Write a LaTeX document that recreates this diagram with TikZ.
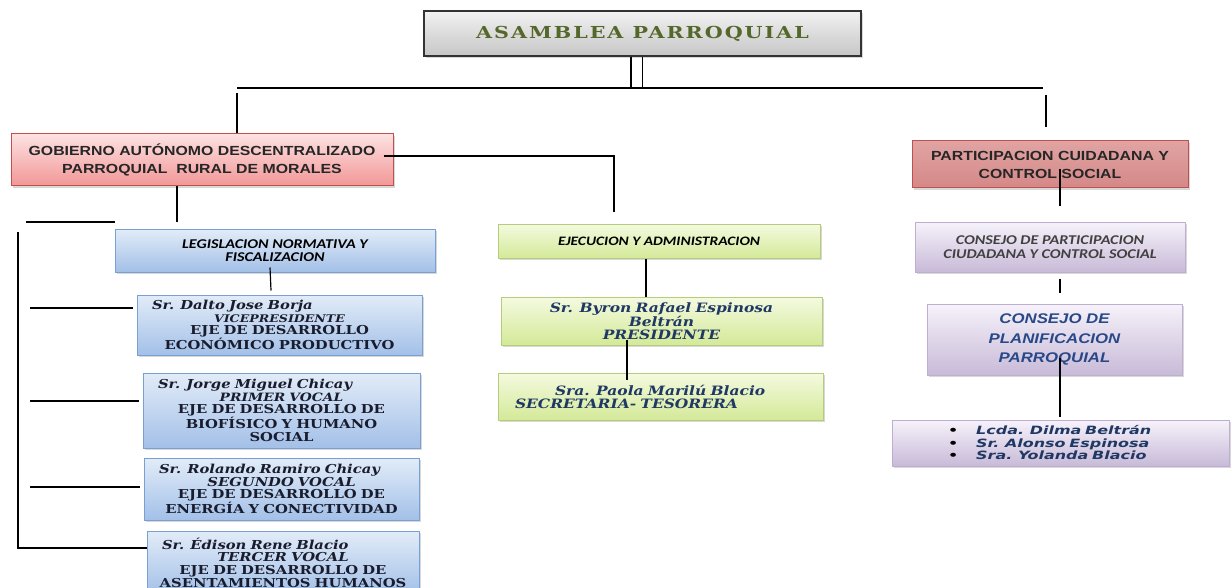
\documentclass[tikz,border=0pt]{standalone}
\usepackage{fontspec}
\usepackage{tikz}
\usetikzlibrary{shadows}
\newfontfamily\titlefont[LetterSpace=12,FakeStretch=1.25]{DejaVu Serif}
\newfontfamily\arialw[FakeStretch=1.2]{Liberation Sans}
\newfontfamily\calw[FakeStretch=1.2]{Carlito}
\newfontfamily\cambw[FakeStretch=1.2]{DejaVu Serif}
\newfontfamily\verdw[FakeStretch=1.4]{DejaVu Sans}
\definecolor{olivetxt}{RGB}{84,104,44}
\definecolor{redline}{RGB}{192,80,77}
\definecolor{pinktop}{RGB}{253,226,226}
\definecolor{pinkbot}{RGB}{242,150,150}
\definecolor{rosetop}{RGB}{224,164,163}
\definecolor{rosebot}{RGB}{212,136,135}
\definecolor{bluetop}{RGB}{226,236,248}
\definecolor{bluebot}{RGB}{163,192,232}
\definecolor{blueline}{RGB}{120,160,210}
\definecolor{greentop}{RGB}{244,250,224}
\definecolor{greenbot}{RGB}{212,233,152}
\definecolor{greenline}{RGB}{180,205,120}
\definecolor{lilatop}{RGB}{246,242,250}
\definecolor{lilabot}{RGB}{200,186,216}
\definecolor{lilaline}{RGB}{190,175,210}
\definecolor{navytxt}{RGB}{31,56,100}
\definecolor{darktxt}{RGB}{25,28,45}
\definecolor{planiftxt}{RGB}{40,72,135}

\begin{document}
\begin{tikzpicture}[x=1pt, y=-1pt,
    conn/.style={line width=1.2pt},
    box/.style={draw, drop shadow={shadow xshift=2pt, shadow yshift=-2pt, opacity=.3}},
    topbox/.style={box, draw=black!80, line width=1.4pt, top color=gray!10, bottom color=gray!45, minimum width=437pt, minimum height=45pt, text=olivetxt, font=\titlefont\bfseries\fontsize{16.5}{20}\selectfont},
    redbox/.style={box, draw=redline, line width=1pt, top color=pinktop, bottom color=pinkbot, align=center, text=black!85, font=\arialw\bfseries\fontsize{13.2}{18}\selectfont},
    bluebox/.style={box, draw=blueline, line width=1pt, top color=bluetop, bottom color=bluebot, align=center},
    greenbox/.style={box, draw=greenline, line width=1pt, top color=greentop, bottom color=greenbot, align=center},
    lilabox/.style={box, draw=lilaline, line width=1pt, top color=lilatop, bottom color=lilabot, align=center},
    persfont/.style={inner xsep=6pt, font=\cambw\bfseries\fontsize{12.3}{12.6}\selectfont},
    capfont/.style={font=\calw\bfseries\itshape\fontsize{13.4}{13.5}\selectfont}]
    \useasboundingbox[fill=white] (0,0) rectangle (1231,588);

    \node[topbox] (asamblea) at (642.5,33.5) {ASAMBLEA PARROQUIAL};
    \node[redbox, minimum width=382pt, minimum height=52pt] (gad) at (202,160) {GOBIERNO AUTÓNOMO DESCENTRALIZADO\\PARROQUIAL\ \ RURAL DE MORALES};
    \node[redbox, top color=rosetop, bottom color=rosebot, minimum width=276pt, minimum height=47pt] (partic) at (1050,164.5) {PARTICIPACION CUIDADANA Y\\CONTROL SOCIAL};

    % legislativo
    \node[bluebox, capfont, minimum width=320pt, minimum height=43pt] (legis) at (275,250.5) {LEGISLACION NORMATIVA Y\\FISCALIZACION};
    \node[bluebox, persfont, text=darktxt, text width=273pt, minimum height=60pt] (dalto) at (279.5,325) {\hspace*{9pt}\itshape Sr. Dalto Jose Borja\hfill\null\\{\itshape\fontsize{10.5}{12.6}\selectfont VICEPRESIDENTE}\\\upshape EJE DE DESARROLLO\\ECONÓMICO PRODUCTIVO};
    \node[bluebox, persfont, text=darktxt, text width=265pt, minimum height=75pt] (jorge) at (281.5,410.5) {\hspace*{9pt}\itshape Sr. Jorge Miguel Chicay\hfill\null\\{\itshape\fontsize{11.5}{12.6}\selectfont PRIMER VOCAL}\\\upshape EJE DE DESARROLLO DE\\BIOFÍSICO Y HUMANO\\SOCIAL};
    \node[bluebox, persfont, text=darktxt, text width=263pt, minimum height=62pt] (rolando) at (281.5,489) {\hspace*{9pt}\itshape Sr. Rolando Ramiro Chicay\hfill\null\\\itshape SEGUNDO VOCAL\\\upshape EJE DE DESARROLLO DE\\ENERGÍA Y CONECTIVIDAD};
    \node[bluebox, persfont, text=darktxt, text width=260pt, minimum height=63pt] (edison) at (283,562.5) {\hspace*{9pt}\itshape Sr. Édison Rene Blacio\hfill\null\\\itshape TERCER VOCAL\\\upshape EJE DE DESARROLLO DE\\ASENTAMIENTOS HUMANOS};

    % ejecutivo
    \node[greenbox, font=\calw\bfseries\itshape\fontsize{12.9}{14}\selectfont, minimum width=322pt, minimum height=34pt] (ejec) at (659,241) {EJECUCION Y ADMINISTRACION};
    \node[greenbox, persfont, font=\cambw\bfseries\itshape\fontsize{12.9}{13}\selectfont, text=navytxt, text width=309pt, minimum height=48pt] (byron) [below of=ejec, node distance=80pt, xshift=2.5pt] {Sr. Byron Rafael Espinosa\\Beltrán\\PRESIDENTE};
    \node[greenbox, persfont, font=\cambw\bfseries\itshape\fontsize{12.9}{13}\selectfont, text=navytxt, inner xsep=17pt, text width=291pt, align=left, minimum height=47pt] (paola) [below of=byron, node distance=75.5pt, xshift=-1pt] {\hspace*{40pt}Sra. Paola Marilú Blacio\\SECRETARIA- TESORERA};

    % participacion
    \node[lilabox, capfont, text=black!75, minimum width=270pt, minimum height=50pt] (cpart) at (1050,247) {CONSEJO DE PARTICIPACION\\CIUDADANA Y CONTROL SOCIAL};
    \node[lilabox, font=\arialw\bfseries\itshape\fontsize{14}{19.5}\selectfont, text=planiftxt, minimum width=255pt, minimum height=71pt] (planif) at (1054.5,339.5) {CONSEJO DE\\PLANIFICACION\\PARROQUIAL};
    \node[lilabox, font=\verdw\bfseries\itshape\fontsize{11.4}{12.5}\selectfont, text=navytxt, align=left, inner xsep=56pt, text width=225pt, minimum height=46pt] (lista) at (1060.5,443) {{\upshape\color{black}•}\hspace{18pt}Lcda. Dilma Beltrán\\{\upshape\color{black}•}\hspace{18pt}Sr. Alonso Espinosa\\{\upshape\color{black}•}\hspace{18pt}Sra. Yolanda Blacio};

    \coordinate (hl) at (237,88);
    \coordinate (hr) at (1043,88);
    \coordinate (sl) at (26,222);
    \coordinate (lb) at (18,232);
    \draw[conn] (hl) -- (hr);
    \draw[conn] ([xshift=-11.5pt]asamblea.south) -- ([xshift=-11.5pt]asamblea.south |- hl);
    \draw[conn] (asamblea.south) -- (asamblea.south |- hl);
    \draw[conn] ([yshift=-5pt]hl) -- (hl |- gad.north);
    \draw[conn] ([xshift=3pt,yshift=-7pt]hr) -- ++(0,32);
    \draw[conn] ([xshift=-10pt,yshift=4pt]gad.east) -| ([xshift=-45pt,yshift=11pt]ejec.north);
    \draw[conn] ([xshift=-25pt]gad.south) -- ++(0,35);
    \draw[conn] (sl) -- (sl -| legis.west);
    \draw[conn] ([xshift=-5pt,yshift=5pt]legis.south) -- ([xshift=-8.5pt,yshift=4pt]dalto.north);
    \draw[conn] (lb) |- ([yshift=14.5pt]edison.west);
    \foreach \p/\dy in {dalto/17, jorge/9.5, rolando/2}
        \draw[conn] ([xshift=12pt,yshift=\dy pt]lb |- \p.west) -- ([xshift=-4pt,yshift=\dy pt]\p.west);
    \draw[conn] ([xshift=-13pt]ejec.south) -- ([xshift=-15.5pt]byron.north);
    \draw[conn] ([xshift=-34.5pt,yshift=6pt]byron.south) -- ([xshift=-33.5pt,yshift=-7pt]paola.north);
    \draw[conn] ([xshift=10pt,yshift=19pt]partic.south) -- ([xshift=10pt,yshift=15pt]cpart.north);
    \draw[conn] ([xshift=10pt,yshift=-6pt]cpart.south) -- ([xshift=5.5pt,yshift=11pt]planif.north);
    \draw[conn] ([xshift=5.5pt,yshift=18pt]planif.south) -- ([xshift=-0.5pt,yshift=3pt]lista.north);
\end{tikzpicture}
\end{document}
